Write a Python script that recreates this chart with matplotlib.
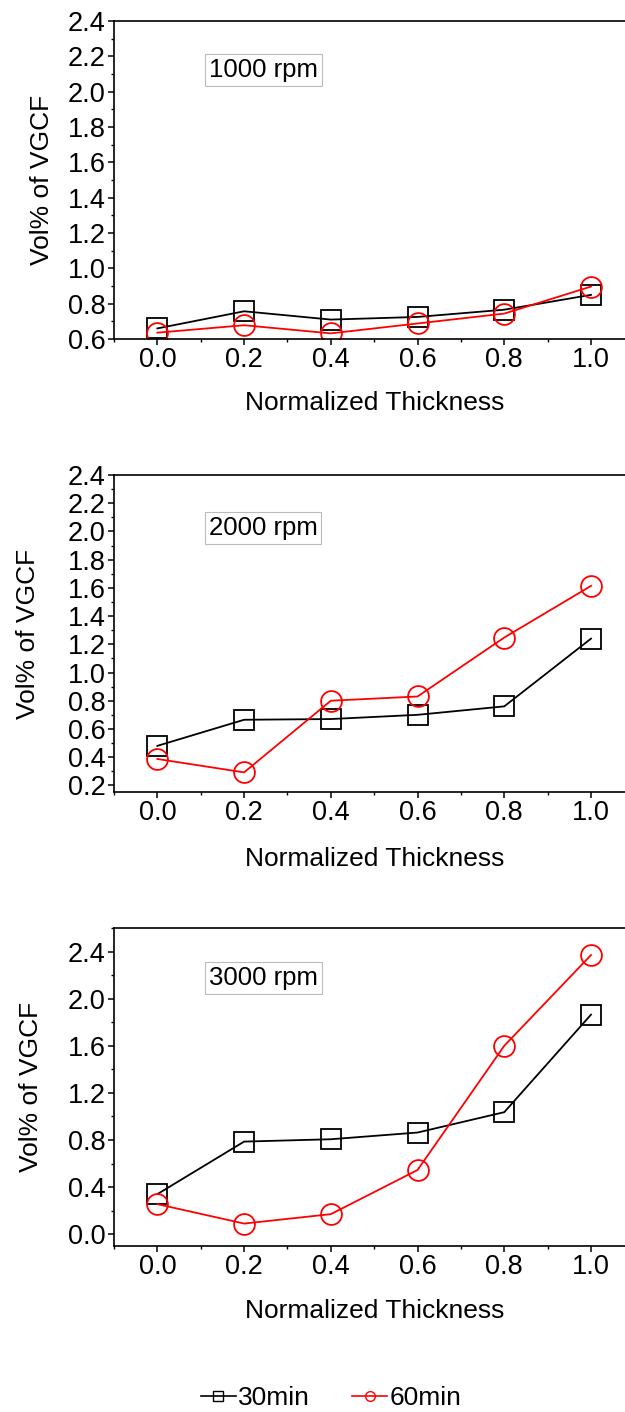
import matplotlib
matplotlib.use("Agg")
import matplotlib.pyplot as plt
from matplotlib.lines import Line2D
from matplotlib.ticker import MultipleLocator

plt.rcParams['font.family'] = ['Liberation Sans', 'DejaVu Sans']

# DATA
thickness = [0.0, 0.2, 0.4, 0.6, 0.8, 1.0]
rpm_labels = ["1000 rpm", "2000 rpm", "3000 rpm"]

vol_1000_30 = [0.66, 0.757, 0.71, 0.725, 0.766, 0.85]
vol_1000_60 = [0.636, 0.678, 0.632, 0.688, 0.744, 0.897]

vol_2000_30 = [0.48, 0.665, 0.67, 0.70, 0.76, 1.24]
vol_2000_60 = [0.387, 0.292, 0.80, 0.83, 1.248, 1.614]

vol_3000_30 = [0.34, 0.786, 0.806, 0.863, 1.036, 1.864]
vol_3000_60 = [0.255, 0.09, 0.17, 0.545, 1.60, 2.37]

series_30 = [vol_1000_30, vol_2000_30, vol_3000_30]
series_60 = [vol_1000_60, vol_2000_60, vol_3000_60]

ylims = [(0.6, 2.4), (0.153, 2.4), (-0.1, 2.6)]
y_major = [0.2, 0.2, 0.4]
y_minor = [0.1, 0.1, 0.2]

fig = plt.figure(figsize=(6.25, 14.12), dpi=100)

# axes positions in figure fractions (right edge runs past the image)
positions = [
    [0.1824, 0.7599, 0.8326, 0.2252],
    [0.1824, 0.4391, 0.8326, 0.2245],
    [0.1824, 0.1176, 0.8326, 0.2252],
]
box_y = [0.883, 0.871, 0.88]
ylabel_x = [-0.115, -0.143, -0.137]
xlabel_y = [-0.162, -0.172, -0.167]

for i in range(3):
    ax = fig.add_axes(positions[i])
    ax.plot(thickness, series_30[i], color='black', lw=1.3, marker='s', ms=14,
            mfc='none', mec='black', mew=1.3)
    ax.plot(thickness, series_60[i], color='red', lw=1.3, marker='o', ms=15,
            mfc='none', mec='red', mew=1.3)
    ax.set_xlim(-0.1, 1.1)
    ax.set_ylim(*ylims[i])
    ax.xaxis.set_major_locator(MultipleLocator(0.2))
    ax.xaxis.set_minor_locator(MultipleLocator(0.1))
    ax.yaxis.set_major_locator(MultipleLocator(y_major[i]))
    ax.yaxis.set_minor_locator(MultipleLocator(y_minor[i]))
    ax.xaxis.set_major_formatter(plt.FormatStrFormatter('%.1f'))
    ax.yaxis.set_major_formatter(plt.FormatStrFormatter('%.1f'))
    ax.tick_params(which='major', direction='out', length=4, width=1.1, labelsize=19.5, pad=2)
    ax.tick_params(which='minor', direction='out', length=2.5, width=1.0)
    for sp in ax.spines.values():
        sp.set_linewidth(1.2)
    ax.set_ylabel("Vol% of VGCF", fontsize=19)
    ax.yaxis.set_label_coords(ylabel_x[i], 0.5)
    ax.set_xlabel("Normalized Thickness", fontsize=19)
    ax.xaxis.set_label_coords(0.5, xlabel_y[i])
    ax.text(0.182, box_y[i], rpm_labels[i], transform=ax.transAxes, fontsize=18.5,
            ha='left', va='top',
            bbox=dict(boxstyle='square,pad=0.15', fc='white', ec='#bbbbbb', lw=0.8))

handles = [
    Line2D([], [], color='black', lw=1.2, marker='s', ms=7, mfc='none', mec='black'),
    Line2D([], [], color='red', lw=1.2, marker='o', ms=7, mfc='none', mec='red'),
]
fig.legend(handles, ["30min", "60min"], loc='center', bbox_to_anchor=(0.53, 0.01),
           ncol=2, frameon=False, fontsize=19, handlelength=1.3, handletextpad=0.1,
           columnspacing=1.6)

fig.savefig("out.png", dpi=100)
